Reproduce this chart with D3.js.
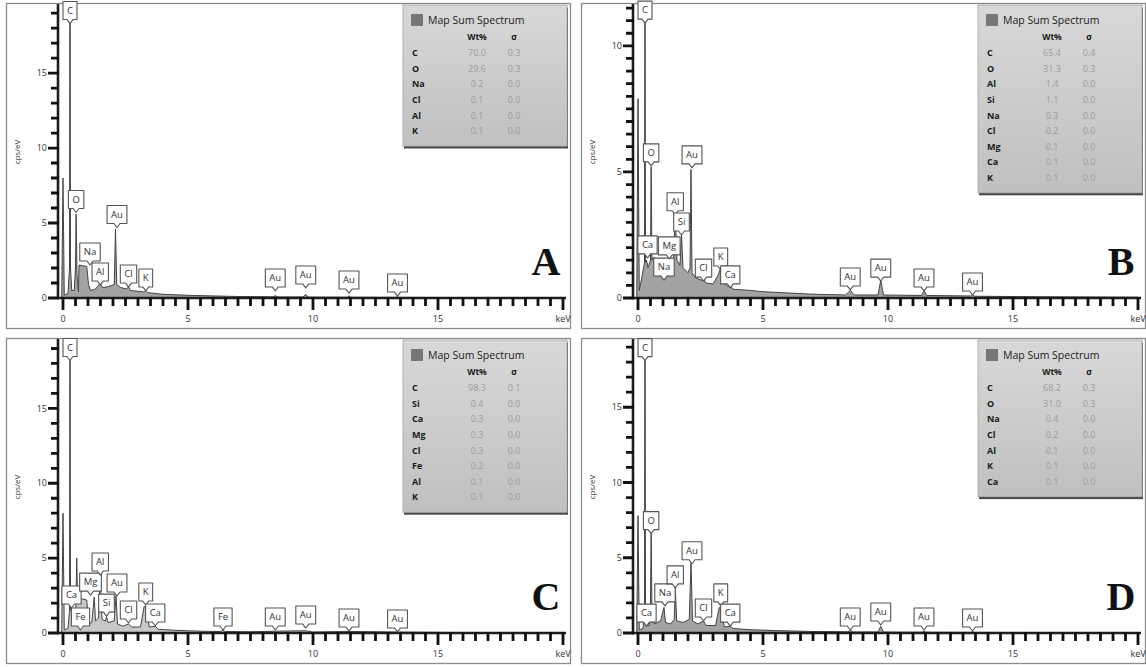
<!DOCTYPE html>
<html>
<head>
<meta charset="utf-8">
<script src="https://cdn.jsdelivr.net/npm/d3@7"></script>
<style>
  body { margin: 0; background: #fff; }
  svg { display: block; font-family: "Open Sans", "DejaVu Sans", sans-serif; }
</style>
</head>
<body>
<svg id="chart" width="1146" height="667"></svg>
<script>
// spectra, [keV, cps/eV]
const spectrumA = [[-0.05,0],[0,8.0],[0.05,0.2],[0.2,0.3],[0.26,2],[0.28,25],[0.30,2],[0.35,0.5],[0.45,0.5],[0.5,2],[0.525,5.6],[0.56,1.5],[0.62,0.4],[0.64,2.2],[0.95,2.1],[1.02,0.9],[1.1,0.5],[1.3,0.6],[1.45,0.9],[1.5,0.95],[1.58,0.7],[1.8,0.75],[2.05,0.9],[2.1,4.6],[2.15,0.9],[2.3,0.7],[2.55,0.6],[2.62,0.75],[2.7,0.5],[3.0,0.45],[3.25,0.4],[3.31,0.5],[3.4,0.35],[4.0,0.25],[5,0.18],[6,0.14],[7,0.1],[8.4,0.08],[8.49,0.15],[8.6,0.07],[9.6,0.07],[9.71,0.25],[9.8,0.06],[11.4,0.05],[11.44,0.15],[11.5,0.05],[13.3,0.04],[13.38,0.08],[13.45,0.04],[16,0.03],[20,0.02]];
const spectrumB = [[-0.05,0],[0,7.9],[0.05,0.3],[0.15,0.8],[0.26,1.4],[0.28,15],[0.30,1.4],[0.34,1.5],[0.4,1.2],[0.5,1.5],[0.525,5.2],[0.56,1.5],[0.6,1.6],[0.9,1.5],[1.0,1.0],[1.04,1.1],[1.1,0.9],[1.2,1.2],[1.25,2.0],[1.3,1.2],[1.42,1.5],[1.49,3.3],[1.56,1.5],[1.68,1.3],[1.74,2.5],[1.8,1.2],[2.0,1.0],[2.08,1.2],[2.12,5.1],[2.16,1.0],[2.3,0.8],[2.55,0.7],[2.62,0.8],[2.7,0.6],[3.0,0.55],[3.2,0.9],[3.31,1.2],[3.42,0.6],[3.6,0.45],[3.69,0.5],[3.8,0.35],[4.5,0.3],[5,0.25],[6,0.2],[7,0.15],[8.3,0.12],[8.49,0.3],[8.65,0.12],[9.6,0.12],[9.71,0.7],[9.82,0.12],[11.35,0.1],[11.44,0.3],[11.55,0.1],[13.3,0.08],[13.38,0.15],[13.46,0.07],[16,0.05],[20,0.03]];
const spectrumC = [[-0.05,0],[0,8.0],[0.05,0.2],[0.2,0.3],[0.26,1.5],[0.28,25],[0.30,1.5],[0.34,1.6],[0.4,0.5],[0.5,0.6],[0.55,5.0],[0.58,2.4],[0.7,2.3],[0.95,2.2],[1.02,0.6],[1.15,0.7],[1.25,2.4],[1.3,0.8],[1.42,1.0],[1.49,3.9],[1.56,0.9],[1.7,0.8],[1.74,1.1],[1.8,0.7],[2.05,0.8],[2.12,2.5],[2.18,0.6],[2.4,0.45],[2.62,0.6],[2.75,0.4],[3.1,0.4],[3.25,1.8],[3.35,1.6],[3.45,0.4],[3.69,0.45],[3.8,0.25],[4.5,0.18],[5.5,0.12],[6.3,0.1],[6.4,0.18],[6.5,0.1],[7.5,0.08],[8.49,0.12],[9.71,0.15],[10,0.06],[11.44,0.1],[13.38,0.06],[16,0.03],[20,0.02]];
const spectrumD = [[-0.05,0],[0,7.8],[0.05,0.2],[0.2,0.3],[0.26,1.5],[0.28,25],[0.30,1.5],[0.34,0.5],[0.45,0.5],[0.5,2],[0.525,6.6],[0.56,1.2],[0.65,0.6],[0.9,0.8],[1.04,1.7],[1.1,0.7],[1.3,0.6],[1.45,0.9],[1.49,3.0],[1.55,0.8],[1.8,0.7],[2.05,0.9],[2.12,4.7],[2.18,0.8],[2.4,0.6],[2.62,0.8],[2.72,0.5],[3.1,0.5],[3.25,1.7],[3.35,1.5],[3.45,0.4],[3.69,0.45],[3.8,0.3],[4.5,0.22],[5.5,0.16],[7,0.1],[8.4,0.08],[8.49,0.18],[8.6,0.07],[9.6,0.07],[9.71,0.45],[9.82,0.06],[11.4,0.05],[11.44,0.15],[11.5,0.05],[13.3,0.04],[13.38,0.08],[13.45,0.04],[16,0.03],[20,0.02]];

// peak markers, [element, keV, marker tip in cps/eV]
const labelsA = [["C",0.28,18.3],["O",0.525,5.7],["Na",1.08,2.2],["Al",1.49,0.87],["Au",2.16,4.7],["Cl",2.62,0.73],["K",3.31,0.47],["Au",8.49,0.47],["Au",9.71,0.67],["Au",11.44,0.33],["Au",13.38,0.13]];
const labelsB = [["C",0.28,10.9],["Ca",0.38,1.59],["O",0.525,5.24],["Na",1.04,0.71],["Mg",1.25,1.55],["Al",1.49,3.3],["Si",1.74,2.5],["Au",2.16,5.16],["Cl",2.62,0.67],["K",3.31,1.11],["Ca",3.69,0.4],["Au",8.49,0.32],["Au",9.71,0.67],["Au",11.44,0.28],["Au",13.38,0.12]];
const labelsC = [["C",0.28,18.2],["Ca",0.34,1.67],["Fe",0.70,0.2],["Mg",1.1,2.53],["Al",1.49,3.87],["Si",1.74,1.13],["Au",2.16,2.47],["Cl",2.62,0.67],["K",3.31,1.87],["Ca",3.69,0.47],["Fe",6.40,0.2],["Au",8.49,0.2],["Au",9.71,0.33],["Au",11.44,0.13],["Au",13.38,0.07]];
const labelsD = [["C",0.28,18.1],["O",0.525,6.6],["Ca",0.34,0.46],["Na",1.08,1.8],["Al",1.49,3.0],["Au",2.16,4.6],["Cl",2.62,0.8],["K",3.31,1.8],["Ca",3.69,0.46],["Au",8.49,0.2],["Au",9.71,0.53],["Au",11.44,0.2],["Au",13.38,0.13]];

// Map Sum Spectrum tables
const elementsA = ["C","O","Na","Cl","Al","K"];
const wtA = ["70.0","29.6","0.2","0.1","0.1","0.1"];
const sigmaA = ["0.3","0.3","0.0","0.0","0.0","0.0"];
const elementsB = ["C","O","Al","Si","Na","Cl","Mg","Ca","K"];
const wtB = ["65.4","31.3","1.4","1.1","0.3","0.2","0.1","0.1","0.1"];
const sigmaB = ["0.4","0.3","0.0","0.0","0.0","0.0","0.0","0.0","0.0"];
const elementsC = ["C","Si","Ca","Mg","Cl","Fe","Al","K"];
const wtC = ["98.3","0.4","0.3","0.3","0.3","0.2","0.1","0.1"];
const sigmaC = ["0.1","0.0","0.0","0.0","0.0","0.0","0.0","0.0"];
const elementsD = ["C","O","Na","Cl","Al","K","Ca"];
const wtD = ["68.2","31.0","0.4","0.2","0.1","0.1","0.1"];
const sigmaD = ["0.3","0.3","0.0","0.0","0.0","0.0","0.0"];

// axis ranges
const yMaxes = [19.67, 11.7, 19.7, 19.6];
const yMinorSteps = [1, 0.5, 1, 1];
const yMajorTicks = [[0,5,10,15],[0,5,10],[0,5,10,15],[0,5,10,15]];
const xMinorTicks = [0,0.5,1,1.5,2,2.5,3,3.5,4,4.5,5,5.5,6,6.5,7,7.5,8,8.5,9,9.5,10,10.5,11,11.5,12,12.5,13,13.5,14,14.5,15,15.5,16,16.5,17,17.5,18,18.5,19,19.5,20];
const xMajorTicks = [0, 5, 10, 15, 20];

const panels = [
  { name: "A", ox: 0,   oy: 0,   spectrum: spectrumA, labels: labelsA, elements: elementsA, wt: wtA, sigma: sigmaA },
  { name: "B", ox: 575, oy: 0,   spectrum: spectrumB, labels: labelsB, elements: elementsB, wt: wtB, sigma: sigmaB },
  { name: "C", ox: 0,   oy: 335, spectrum: spectrumC, labels: labelsC, elements: elementsC, wt: wtC, sigma: sigmaC },
  { name: "D", ox: 575, oy: 335, spectrum: spectrumD, labels: labelsD, elements: elementsD, wt: wtD, sigma: sigmaD }
];

const svg = d3.select("#chart");
const defs = svg.append("defs");

const grad = defs.append("linearGradient").attr("id", "legGrad")
  .attr("x1", 0).attr("y1", 0).attr("x2", 0).attr("y2", 1);
grad.append("stop").attr("offset", "0%").attr("stop-color", "#d8d8d8");
grad.append("stop").attr("offset", "100%").attr("stop-color", "#c0c0c0");

defs.append("clipPath").attr("id", "plotClip")
  .append("rect").attr("x", 58).attr("y", 3).attr("width", 510).attr("height", 296);

panels.forEach((p, i) => {
  const g = svg.append("g").attr("transform", `translate(${p.ox},${p.oy})`);

  // frame
  g.append("rect")
    .attr("x", 6.5).attr("y", 3.5).attr("width", 564).attr("height", 325)
    .attr("fill", "#fff").attr("stroke", "#8c8c8c").attr("stroke-width", 1.3);

  const x = d3.scaleLinear().domain([0, 20]).range([63, 563]);
  const y = d3.scaleLinear().domain([0, yMaxes[i]]).range([298, 3]);

  // spectrum
  const area = d3.area().x(d => x(d[0])).y0(y(0)).y1(d => y(d[1]));
  const line = d3.line().x(d => x(d[0])).y(d => y(d[1]));
  const sp = g.append("g").attr("clip-path", "url(#plotClip)");
  sp.append("path").datum(p.spectrum).attr("d", area)
    .attr("fill", p.name === "C" ? "#c8c8c8" : "#a3a3a3");
  sp.append("path").datum(p.spectrum).attr("d", line)
    .attr("fill", "none").attr("stroke", "#444").attr("stroke-width", 1);

  g.append("g").selectAll("text").data(xMajorTicks).join("text")
    .attr("x", d => x(d)).attr("y", 319).attr("dy", "0.35em")
    .attr("text-anchor", "middle").attr("font-size", 9).attr("fill", "#333")
    .text(d => d === 20 ? "keV" : d);
  g.append("g").selectAll("text").data(yMajorTicks[i]).join("text")
    .attr("x", 47).attr("y", d => y(d)).attr("dy", "0.35em")
    .attr("text-anchor", "end").attr("font-size", 9).attr("fill", "#333")
    .text(d3.format("d"));

  g.append("line").attr("x1", 57).attr("x2", 566).attr("y1", 298).attr("y2", 298)
    .attr("stroke", "#1e1e1e").attr("stroke-width", 2.6);
  g.append("line").attr("x1", 58).attr("x2", 58).attr("y1", 4).attr("y2", 299)
    .attr("stroke", "#1e1e1e").attr("stroke-width", 2.6);

  // tick marks: one path per axis, built from the scales
  const yTicks = d3.range(0, yMaxes[i], yMinorSteps[i]);
  const xPath = xMinorTicks.map(d => `M${x(d)},297V${xMajorTicks.includes(d) ? 310 : 306}`).join("");
  const yPath = yTicks.map(d => `M59,${y(d)}H${yMajorTicks[i].includes(d) ? 48 : 51}`).join("");
  g.append("path").attr("d", xPath + yPath)
    .attr("fill", "none").attr("stroke", "#111").attr("stroke-width", 2.8);

  g.append("text")
    .attr("transform", "translate(20,152) rotate(-90)")
    .attr("text-anchor", "middle").attr("font-size", 8).attr("fill", "#333")
    .text("cps/eV");

  // peak markers
  const mk = g.append("g").selectAll("g").data(p.labels).join("g")
    .attr("transform", d => `translate(${x(d[1])},${y(d[2])})`);
  mk.each(function (d) {
    const s = d3.select(this);
    const t = s.append("text")
      .attr("y", -13).attr("dy", "0.35em")
      .attr("text-anchor", "middle").attr("font-size", 9.5).attr("fill", "#333")
      .text(d[0]);
    const w = t.node().getComputedTextLength() + 8, h = 18, pt = 4;
    s.insert("path", "text")
      .attr("d", `M${-w / 2},${-pt - h}H${w / 2}V${-pt}H3L0,0L-3,${-pt}H${-w / 2}Z`)
      .attr("fill", "#fff").attr("stroke", "#555").attr("stroke-width", 1.1)
      .attr("stroke-linejoin", "round");
  });

  // legend table
  const lx = 403, ly = 5, lw = 164;
  const lh = 63 + (p.elements.length - 1) * 15.6;
  const lg = g.append("g").attr("transform", `translate(${lx},${ly})`);
  lg.append("rect").attr("x", 1).attr("y", 2.5).attr("width", lw).attr("height", lh)
    .attr("fill", "#333").attr("opacity", 0.9);
  lg.append("rect").attr("width", lw).attr("height", lh)
    .attr("fill", "url(#legGrad)").attr("stroke", "#b0b0b0").attr("stroke-width", 1);
  lg.append("rect").attr("x", 8).attr("y", 9).attr("width", 12).attr("height", 12)
    .attr("fill", "#777");
  lg.append("text").attr("x", 25).attr("y", 15.5).attr("dy", "0.35em")
    .attr("font-size", 10.5).attr("fill", "#1a1a1a").text("Map Sum Spectrum");
  lg.append("text").attr("x", 74).attr("y", 32).attr("dy", "0.35em")
    .attr("text-anchor", "middle").attr("font-size", 8.5).attr("font-weight", "bold")
    .attr("fill", "#1a1a1a").text("Wt%");
  lg.append("text").attr("x", 111).attr("y", 32).attr("dy", "0.35em")
    .attr("text-anchor", "middle").attr("font-size", 8.5).attr("font-weight", "bold")
    .attr("fill", "#1a1a1a").text("σ");
  const rows = lg.selectAll("g.row").data(p.elements).join("g").attr("class", "row")
    .attr("transform", (d, k) => `translate(0,${48 + k * 15.6})`);
  rows.append("text").attr("x", 9).attr("dy", "0.35em")
    .attr("font-size", 9).attr("font-weight", "bold").attr("fill", "#1a1a1a")
    .text(d => d);
  rows.append("text").attr("x", 74).attr("dy", "0.35em").attr("text-anchor", "middle")
    .attr("font-size", 9).attr("fill", "#9a9a9a").text((d, k) => p.wt[k]);
  rows.append("text").attr("x", 111).attr("dy", "0.35em").attr("text-anchor", "middle")
    .attr("font-size", 9).attr("fill", "#9a9a9a").text((d, k) => p.sigma[k]);

  // panel letter
  g.append("text").attr("x", 546).attr("y", 275).attr("text-anchor", "middle")
    .attr("font-family", "Liberation Serif, Times New Roman, serif")
    .attr("font-weight", "bold").attr("font-size", 40).attr("fill", "#111")
    .text(p.name);
});
</script>
</body>
</html>
